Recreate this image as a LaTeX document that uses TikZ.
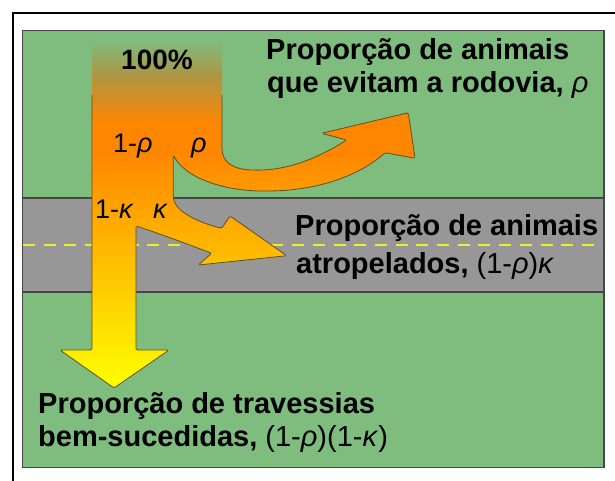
\documentclass[tikz,border=0pt]{standalone}
\usepackage{fontspec}
\setmainfont{Liberation Sans}
\definecolor{bggreen}{RGB}{127,189,127}
\definecolor{roadgray}{RGB}{151,151,151}
\definecolor{edgegray}{RGB}{70,70,70}
\definecolor{dashyellow}{RGB}{238,238,40}
\definecolor{arrorange}{RGB}{255,134,0}
\definecolor{arrmid}{RGB}{172,150,68}
\definecolor{arryellow}{RGB}{255,255,0}
\definecolor{arrline}{RGB}{95,80,35}
\pgfdeclareverticalshading{flowshade}{100bp}{color(0bp)=(arryellow); color(25bp)=(arryellow); color(59bp)=(arrorange); color(63bp)=(arrorange); color(70bp)=(arrmid); color(75bp)=(bggreen); color(100bp)=(bggreen)}
\tikzset{
  bigtext/.style={font=\fontsize{29}{34}\selectfont\bfseries, inner sep=0pt, anchor=base west},
  flowtext/.style={font=\fontsize{27}{32}\selectfont, inner sep=0pt, anchor=base west},
  flowbold/.style={font=\fontsize{28}{32}\selectfont\bfseries, inner sep=0pt, anchor=base west},
  edgeline/.style={draw=edgegray, line width=1.5pt},
  dashline/.style={draw=dashyellow, line width=1.7pt, dash pattern=on 12pt off 8.7pt},
  flowline/.style={draw=arrline, line width=0.8pt, line join=round, rounded corners=1.5pt}
}
\newcommand{\gk}[1]{{\mdseries\itshape #1}}
\begin{document}
\begin{tikzpicture}[x=1pt,y=-1pt]
\useasboundingbox (0,0) rectangle (615,480);
% outer frame
\draw[black, line width=2pt] (12.5,490) -- (12.5,13.2) -- (630,13.2);
% green panel
\fill[bggreen] (22.5,30.5) rectangle (604,467.5);
% road
\fill[roadgray] (22.5,198) rectangle (604,292);
\draw[edgeline] (22.5,198) -- (604,198);
\draw[edgeline] (22.5,292) -- (604,292);
\draw[dashline] (23,245) -- (604,245);
\draw[edgeline] (22.5,30.5) rectangle (604,467.5);
% flow arrow
\def\flowpath{(92,40) -- (92,350) -- (60,350) -- (114,388) -- (169,350) -- (136,350) -- (136,226)
  .. controls (152,231) and (185,243) .. (211.7,253.3)
  -- (198.3,265) -- (286.7,255.7) -- (230,216) -- (221.7,228.3)
  .. controls (200,223) and (175,212) .. (173.3,196.7)
  -- (173.3,155)
  .. controls (185,178) and (225,192) .. (270,191)
  .. controls (320,190) and (360,175) .. (385,152.7)
  -- (415,158.3) -- (408.3,112.7) -- (321.7,133.3) -- (346.7,140)
  .. controls (310,163) and (280,171) .. (252,170)
  .. controls (230,169) and (222,160) .. (222,147)
  -- (222,40) -- cycle}
\shade[shading=flowshade, rounded corners=1.5pt] \flowpath;
\draw[flowline] (92,95) -- (92,350) -- (60,350) -- (114,388) -- (169,350) -- (136,350) -- (136,226)
  .. controls (152,231) and (185,243) .. (211.7,253.3)
  -- (198.3,265) -- (286.7,255.7) -- (230,216) -- (221.7,228.3)
  .. controls (200,223) and (175,212) .. (173.3,196.7)
  -- (173.3,155)
  .. controls (185,178) and (225,192) .. (270,191)
  .. controls (320,190) and (360,175) .. (385,152.7)
  -- (415,158.3) -- (408.3,112.7) -- (321.7,133.3) -- (346.7,140)
  .. controls (310,163) and (280,171) .. (252,170)
  .. controls (230,169) and (222,160) .. (222,147)
  -- (222,95);
% labels in the arrow
\node[flowbold] (full) at (121,69) {100\%};
\node[flowtext] (onerho) at (113,152) {1-\textit{ρ}};
\node[flowtext] (rho) at (191,152) {\textit{ρ}};
\node[flowtext] (onekap) at (95,218) {1-\textit{κ}};
\node[flowtext] (kap) at (153,218) {\textit{κ}};
% texts
\node[bigtext] (avoidA) at (266,59) {Proporção de animais};
\node[bigtext] (avoidB) at (267,92) {que evitam a rodovia, \gk{ρ}};
\node[bigtext] (killA) at (295,235) {Proporção de animais};
\node[bigtext] (killB) at (296,273) {atropelados, {\mdseries (1-\textit{ρ})\textit{κ}}};
\node[bigtext] (crossA) at (38,413) {Proporção de travessias};
\node[bigtext] (crossB) at (38,446) {bem-sucedidas, {\mdseries (1-\textit{ρ})(1-\textit{κ})}};
\end{tikzpicture}
\end{document}
